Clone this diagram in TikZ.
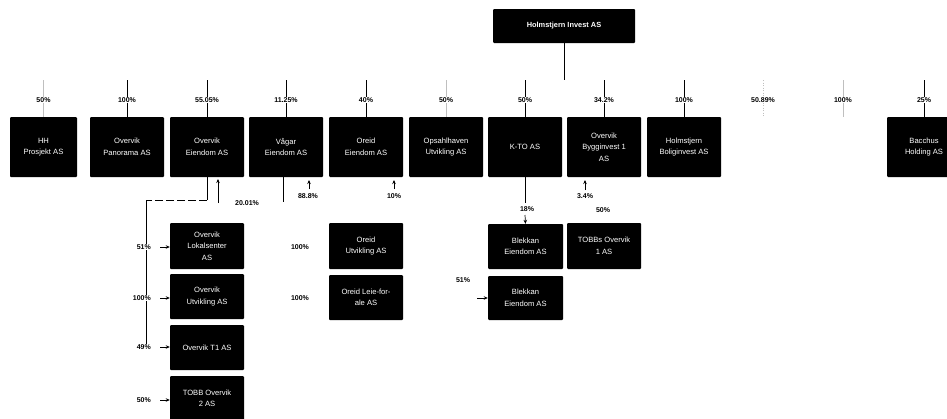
\documentclass[tikz,border=0pt]{standalone}
\usepackage{fontspec}
\setmainfont{Liberation Sans}
\usetikzlibrary{arrows.meta}
\begin{document}
\begin{tikzpicture}[x=1pt,y=-1pt,
  cbox/.style={fill=black,draw=none,text=white,align=center,minimum width=74pt,minimum height=60pt,inner sep=1pt,rounded corners=1pt,font=\fontsize{7.6}{11.5}\selectfont},
  sbox/.style={cbox,minimum height=46pt},
  pct/.style={font=\bfseries\fontsize{7}{8}\selectfont,inner sep=1pt,fill=white},
  stub/.style={line width=0.6pt,draw=black},
  faint/.style={line width=0.5pt,draw=black!25},
  tip/.style={-{Stealth[length=4pt,width=3.5pt]},line width=0.7pt}
]
\useasboundingbox (0,0) rectangle (947,418);
% top
\node[cbox,minimum width=142pt,minimum height=34pt,font=\bfseries\fontsize{7.4}{9}\selectfont] (top) at (564,26) {Holmstjern Invest AS};
\coordinate (trunk) at (564,80);
\draw[stub] (top.south) -- (trunk);
% first row
\node[cbox,minimum width=67pt] (hh) at (43.5,147) {HH\\Prosjekt AS};
\node[cbox] (pan) at (127,147) {Overvik\\Panorama AS};
\node[cbox] (eie) at (207,147) {Overvik\\Eiendom AS};
\node[cbox] (vag) at (286,147) {Vågar\\Eiendom AS};
\node[cbox] (ore) at (366,147) {Oreid\\Eiendom AS};
\node[cbox] (ops) at (446,147) {Opsahlhaven\\Utvikling AS};
\node[cbox] (kto) at (525,147) {K-TO AS};
\node[cbox] (byg) at (604,147) {Overvik\\Bygginvest 1\\AS};
\node[cbox] (bol) at (684,147) {Holmstjern\\Boliginvest AS};
\node[cbox] (bac) at (924,147) {Bacchus\\Holding AS};
\coordinate (f1) at (763,117);
\coordinate (f2) at (843,117);
% stubs
\foreach \n/\x/\s in {hh/43.5/faint,pan/127/stub,eie/207/stub,vag/286/stub,ore/366/stub,ops/446/faint,kto/525/stub,byg/604/stub,bol/684/stub,bac/924/stub}{
  \coordinate (s-\n) at (\x,80);
  \draw[\s] (s-\n) -- (\n.north);
}
\coordinate (s-f1) at (763,80);
\coordinate (s-f2) at (843,80);
\draw[faint,dotted] (s-f1) -- (f1);
\draw[faint] (s-f2) -- (f2);
% percentages
\node[pct] (p1) at (43.5,100) {50\%};
\node[pct] (p2) at (127,100) {100\%};
\node[pct] (p3) at (207,100) {55.05\%};
\node[pct] (p4) at (286,100) {11.25\%};
\node[pct] (p5) at (366,100) {40\%};
\node[pct] (p6) at (446,100) {50\%};
\node[pct] (p7) at (525,100) {50\%};
\node[pct] (p8) at (604,100) {34.2\%};
\node[pct] (p9) at (684,100) {100\%};
\node[pct] (p10) at (763,100) {50.89\%};
\node[pct] (p11) at (843,100) {100\%};
\node[pct] (p12) at (924,100) {25\%};
% Overvik Eiendom children
\node[sbox] (lok) at (207,246) {Overvik\\Lokalsenter\\AS};
\node[sbox,minimum height=45pt] (utv) at (207,296.5) {Overvik\\Utvikling AS};
\node[sbox,minimum height=45pt] (t1) at (207,347.5) {Overvik T1 AS};
\node[sbox,minimum height=45pt] (tobb2) at (207,398.5) {TOBB Overvik\\2 AS};
\coordinate (e1) at (207,200);
\coordinate (e2) at (146,200);
\coordinate (e3) at (146,347);
\draw[stub] (eie.south) -- (e1);
\draw[stub,dash pattern=on 8pt off 3pt] (e1) -- (e2);
\draw[stub] (e2) -- (e3);
\coordinate (ea) at (218,203);
\draw[tip] (ea) -- (218,179);
\node[pct] (p20) at (247,203) {20.01\%};
\node[pct,anchor=east] (q1) at (152,247) {51\%};
\node[pct,anchor=east] (q2) at (152,298) {100\%};
\node[pct,anchor=east] (q3) at (152,347) {49\%};
\node[pct,anchor=east] (q4) at (152,400) {50\%};
\foreach \q/\b/\y in {q1/lok/247,q2/utv/298,q3/t1/347,q4/tobb2/400}{
  \coordinate (a-\q) at (160,\y);
  \draw[tip] (a-\q) -- (\b.west |- a-\q);
}
% Vågar
\coordinate (v1) at (283,202);
\draw[stub] (vag.south -| v1) -- (v1);
\coordinate (va) at (309,189);
\draw[tip] (va) -- (309,180);
\node[pct] (p88) at (308,196) {88.8\%};
% Oreid
\coordinate (oa) at (394,189);
\draw[tip] (oa) -- (394,180);
\node[pct] (p10b) at (394,196) {10\%};
\node[sbox] (outv) at (366,246) {Oreid\\Utvikling AS};
\node[sbox,minimum height=45pt] (olei) at (366,297.5) {Oreid Leie-for-\\ale AS};
\node[pct] (r1) at (300,247) {100\%};
\node[pct] (r2) at (300,298) {100\%};
% K-TO
\coordinate (k1) at (525,203);
\draw[stub] (kto.south) -- (k1);
\node[pct] (p18) at (527,209) {18\%};
\node[sbox,minimum width=75pt,minimum height=45pt] (ble1) at (525.5,246.5) {Blekkan\\Eiendom AS};
\node[sbox,minimum width=75pt,minimum height=44pt] (ble2) at (525.5,298) {Blekkan\\Eiendom AS};
\coordinate (k2) at (525,215);
\draw[tip] (k2) -- (ble1.north);
\node[pct] (p51b) at (463,280) {51\%};
\coordinate (ka) at (477,298);
\draw[tip] (ka) -- (ble2.west |- ka);
% Bygginvest
\coordinate (ba) at (585,190);
\draw[tip] (ba) -- (585,180);
\node[pct] (p34) at (585,196) {3.4\%};
\node[pct] (p50c) at (603,210) {50\%};
\node[sbox] (tobb1) at (604,246) {TOBBs Overvik\\1 AS};
\end{tikzpicture}
\end{document}
